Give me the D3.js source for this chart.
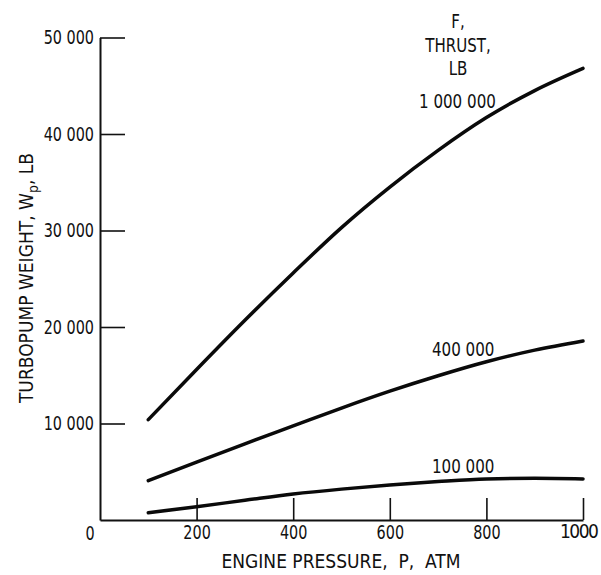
<!DOCTYPE html>
<html>
<head>
<meta charset="utf-8">
<script src="https://cdn.jsdelivr.net/npm/d3@7"></script>
<style>
  body { margin: 0; background: #fff; }
  svg text { font-family: "Liberation Sans Narrow", "DejaVu Sans Condensed", sans-serif; fill: #111; }
  .axis path, .axis line { stroke: #111; }
</style>
</head>
<body>
<script>
// engine pressure, atm
var pressure = [100, 200, 300, 400, 500, 600, 700, 800, 900, 1000];
// turbopump weight, lb, one list per thrust level
var weight1000k = [10400, 15600, 20700, 25600, 30300, 34500, 38300, 41700, 44500, 46800];
var weight400k  = [4070, 6000, 7900, 9750, 11600, 13350, 14950, 16400, 17600, 18550];
var weight100k  = [760, 1380, 2040, 2690, 3200, 3630, 3980, 4250, 4320, 4260];
var thrustLabels = ["1 000 000", "400 000", "100 000"];
var xTicks = [200, 400, 600, 800, 1000];
var yTicks = [10000, 20000, 30000, 40000, 50000];

var width = 601, height = 575;

var svg = d3.select("body").append("svg")
    .attr("width", width)
    .attr("height", height);

var x = d3.scaleLinear().domain([0, 1000]).range([100, 583]);
var y = d3.scaleLinear().domain([0, 50000]).range([520, 37.5]);

var fmt = function(d) { return d3.format(",")(d).replace(/,/g, " "); };

// squeeze text horizontally so it reads like the condensed lettering of the original
function narrow(sel, k) {
  sel.each(function() {
    var w = this.getComputedTextLength();
    d3.select(this).attr("textLength", w * k).attr("lengthAdjust", "spacingAndGlyphs");
  });
}

// y axis, ticks pointing into the plot
var gy = svg.append("g")
    .attr("class", "axis")
    .attr("transform", "translate(" + x(0) + ",0)")
    .call(d3.axisLeft(y).tickValues(yTicks).tickSize(-25).tickSizeOuter(0).tickPadding(6).tickFormat(fmt));
gy.select(".domain").attr("stroke-width", 2);
gy.selectAll(".tick line").attr("stroke-width", 1.6);
gy.selectAll("text").attr("font-size", 20).attr("fill", "#111");

// x axis
var gx = svg.append("g")
    .attr("class", "axis")
    .attr("transform", "translate(0," + y(0) + ")")
    .call(d3.axisBottom(x).tickValues(xTicks).tickSize(-22).tickSizeOuter(0).tickPadding(5).tickFormat(function(d) { return d; }));
gx.select(".domain").attr("stroke-width", 2);
gx.selectAll(".tick line").attr("stroke-width", 1.6);
gx.selectAll("text").attr("font-size", 20).attr("fill", "#111");

svg.selectAll(".axis text").style("font-family", "'Liberation Sans Narrow', 'DejaVu Sans Condensed', sans-serif");

// last label sits against the page edge: tighten it with letter spacing, end-anchored
var last = gx.selectAll(".tick text").filter(function(d) { return d === xTicks[xTicks.length - 1]; });
last.classed("edge", true)
    .attr("text-anchor", "end")
    .attr("x", 597 - x(1000))
    .attr("font-size", 19)
    .attr("letter-spacing", -1.5);
narrow(svg.selectAll(".axis text").filter(function() { return !this.classList.contains("edge"); }), 0.8);

// shared origin label
narrow(svg.append("text")
    .attr("x", x(0) - 10)
    .attr("y", y(0) + 20)
    .attr("text-anchor", "middle")
    .attr("font-size", 20)
    .text("0"), 0.8);

// axis titles
svg.append("text")
    .attr("x", 341)
    .attr("y", 568)
    .attr("text-anchor", "middle")
    .attr("font-size", 19)
    .attr("xml:space", "preserve")
    .text("ENGINE PRESSURE,  P,  ATM");

var yTitle = svg.append("text")
    .attr("transform", "translate(33,278) rotate(-90)")
    .attr("text-anchor", "middle")
    .attr("font-size", 19);
yTitle.append("tspan").text("TURBOPUMP WEIGHT,  W");
yTitle.append("tspan").attr("font-size", 14).attr("dy", 5).text("p");
yTitle.append("tspan").attr("dy", -5).text(",  LB");

// curves
var line = d3.line()
    .x(function(d) { return x(d[0]); })
    .y(function(d) { return y(d[1]); })
    .curve(d3.curveMonotoneX);

[weight1000k, weight400k, weight100k].forEach(function(series) {
  svg.append("path")
      .datum(d3.zip(pressure, series))
      .attr("fill", "none")
      .attr("stroke", "#0a0a0a")
      .attr("stroke-width", 3.5)
      .attr("stroke-linecap", "round")
      .attr("d", line);
});

// curve labels
var labelPos = [[740, 42700], [752, 17000], [752, 4870]];
thrustLabels.forEach(function(t, i) {
  narrow(svg.append("text")
      .attr("x", x(labelPos[i][0]))
      .attr("y", y(labelPos[i][1]))
      .attr("text-anchor", "middle")
      .attr("font-size", 20)
      .text(t), 0.84);
});

// legend heading
["F,", "THRUST,", "LB"].forEach(function(t, i) {
  narrow(svg.append("text")
      .attr("x", 458)
      .attr("y", 28 + i * 23.5)
      .attr("text-anchor", "middle")
      .attr("font-size", 19)
      .text(t), 0.88);
});
</script>
</body>
</html>
